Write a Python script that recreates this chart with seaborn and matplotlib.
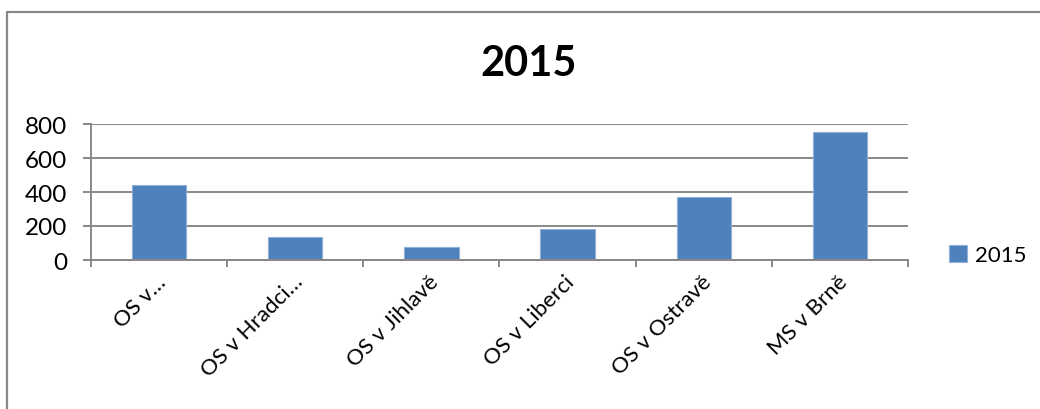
import matplotlib
matplotlib.use("Agg")
import matplotlib.pyplot as plt
import matplotlib.transforms as mtransforms
import seaborn as sns
import pandas as pd
from matplotlib.lines import Line2D

categories = ["OS v…", "OS v Hradci…", "OS v Jihlavě", "OS v Liberci", "OS v Ostravě", "MS v Brně"]
values_2015 = [441, 137, 75, 185, 373, 755]
series_name = "2015"
y_ticks = [0, 200, 400, 600, 800]

sns.set_theme(style="white")
plt.rcParams["font.family"] = ["Lato", "DejaVu Sans"]
plt.rcParams["text.color"] = "black"

df = pd.DataFrame({"court": categories, "count": values_2015, "year": series_name})

fig = plt.figure(figsize=(10.4, 4.1), dpi=100)
ax = fig.add_axes([91 / 1040, 1 - 261 / 410, (908 - 91) / 1040, (261 - 125) / 410])

sns.barplot(data=df, x="court", y="count", hue="year", palette=["#4F81BD"],
            saturation=1, width=0.4, dodge=False, ax=ax, legend=True,
            edgecolor="#8FB0D8", linewidth=0.8)

ax.set_xlim(-0.5, len(categories) - 0.5)
ax.set_ylim(0, 800)
ax.set_yticks(y_ticks)
ax.set_yticklabels([str(v) for v in y_ticks], fontsize=17.5, color="black")
ax.yaxis.grid(True, color="#888888", linewidth=1.4)
ax.set_axisbelow(True)
ax.set_xlabel("")
ax.set_ylabel("")

for s in ["top", "right"]:
    ax.spines[s].set_visible(False)
for s in ["left", "bottom"]:
    ax.spines[s].set_color("#888888")
    ax.spines[s].set_linewidth(1.4)

ax.tick_params(axis="y", which="major", left=True, length=6, width=1.4, color="#888888", pad=11)
ax.set_xticks(range(len(categories)))
ax.set_xticklabels(categories, rotation=45, ha="right", rotation_mode="anchor", fontsize=16, color="black")
ax.tick_params(axis="x", which="major", length=0, pad=8)
offset = mtransforms.ScaledTranslation(-3 / 100, 0, fig.dpi_scale_trans)
for lbl in ax.get_xticklabels():
    lbl.set_transform(lbl.get_transform() + offset)
ax.set_xticks([i - 0.5 for i in range(len(categories) + 1)], minor=True)
ax.tick_params(axis="x", which="minor", bottom=True, length=5, width=1.4, color="#888888")

fig.suptitle("2015", x=529 / 1040, y=1 - 45 / 410, fontsize=30, fontweight="bold",
             va="top", color="black")

leg = ax.legend(loc="center left", bbox_to_anchor=(938 / 1040, 1 - 256 / 410),
                bbox_transform=fig.transFigure, frameon=False, fontsize=16,
                handlelength=0.8, handleheight=0.8, handletextpad=0.35, borderpad=0)
for t in leg.get_texts():
    t.set_color("black")

# chart border (left and top visible)
fig.add_artist(Line2D([7 / 1040, 7 / 1040], [0, 1 - 13 / 410], transform=fig.transFigure,
                      color="#888888", linewidth=1.6))
fig.add_artist(Line2D([7 / 1040, 1], [1 - 13 / 410, 1 - 13 / 410], transform=fig.transFigure,
                      color="#888888", linewidth=1.6))

fig.savefig("out.png", dpi=100, facecolor="white")
